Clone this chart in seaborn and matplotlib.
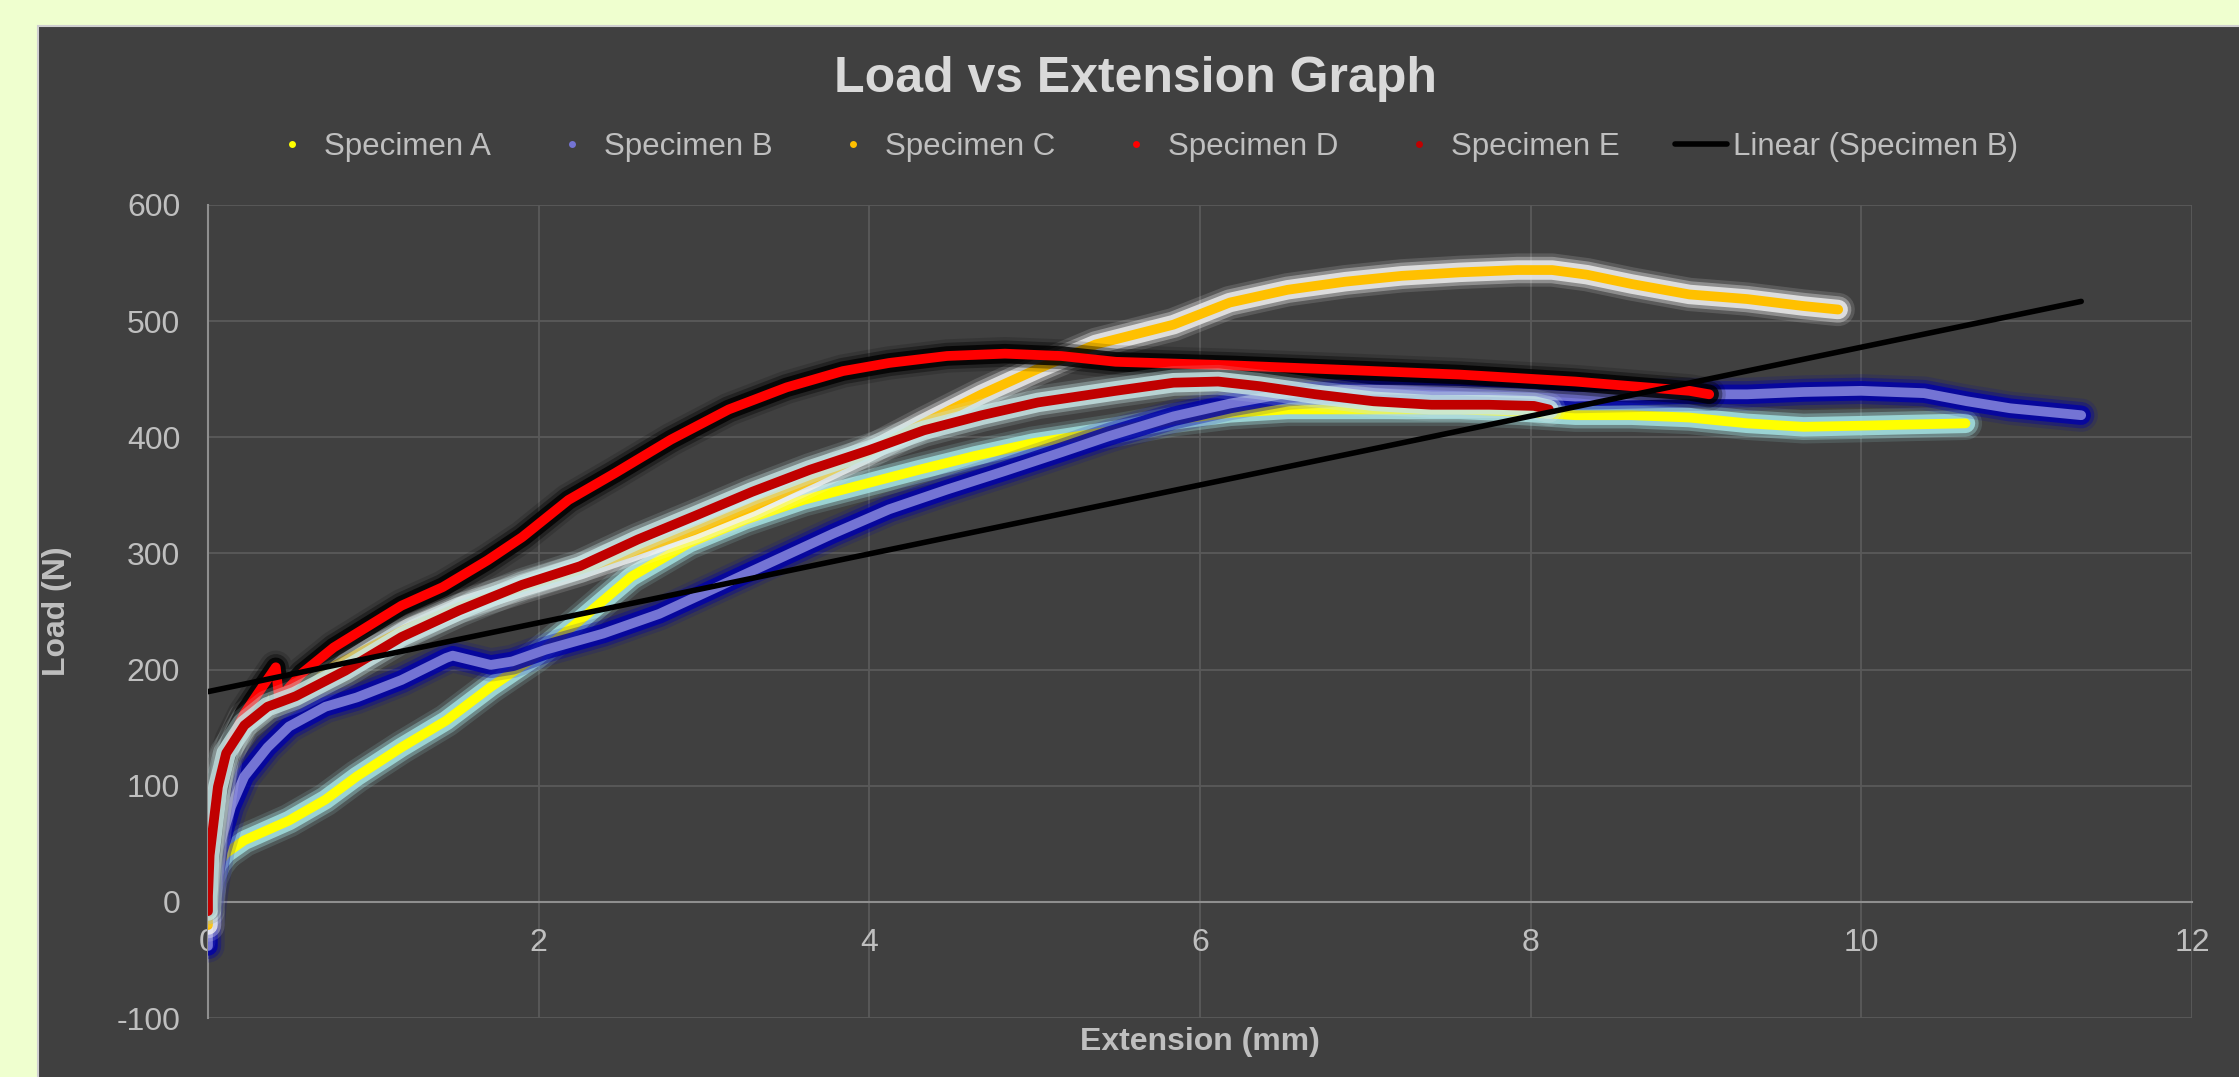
import matplotlib
matplotlib.use('Agg')
import matplotlib.pyplot as plt
import matplotlib.patheffects as pe
from matplotlib.patches import Rectangle
from matplotlib.lines import Line2D
import seaborn as sns
import pandas as pd

# values (extension mm, load N)
spec_a_x = [0.0, 0.02, 0.06, 0.11, 0.22, 0.49, 0.71, 0.90, 1.17, 1.44, 1.71, 1.98, 2.23, 2.56, 2.91, 3.25, 3.60, 3.95,
            4.30, 4.64, 4.99, 5.49, 5.84, 6.18, 6.53, 6.88, 7.22, 7.57, 7.92, 8.27, 8.61, 8.96, 9.31, 9.65, 10.0, 10.3, 10.63]
spec_a_y = [5, 20, 33, 42, 53, 70, 88, 108, 133, 156, 185, 211, 240, 280, 309, 329, 346, 359,
            372, 384, 395, 406, 415, 421, 424, 424, 424, 424, 422, 419, 419, 417, 412, 409, 410, 411, 412]

spec_b_x = [0.0, 0.0, 0.02, 0.06, 0.14, 0.22, 0.36, 0.49, 0.71, 0.90, 1.17, 1.44, 1.48, 1.71, 1.84, 2.04, 2.39, 2.73,
            3.08, 3.43, 3.78, 4.12, 4.47, 4.82, 5.16, 5.45, 5.84, 6.18, 6.53, 6.88, 7.22, 7.57, 7.92, 8.27, 8.61, 8.96,
            9.31, 9.65, 10.0, 10.38, 10.64, 10.9, 11.33]
spec_b_y = [-38, -20, 7, 44, 82, 108, 133, 151, 168, 176, 191, 210, 212, 204, 207, 217, 231, 248,
            271, 294, 317, 338, 355, 371, 387, 401, 418, 429, 438, 441, 441, 440, 438, 435, 436, 437,
            437, 439, 440, 438, 431, 425, 419]

spec_c_x = [0.0, 0.0, 0.01, 0.04, 0.11, 0.22, 0.39, 0.83, 1.17, 1.52, 1.90, 2.25, 2.60, 2.94, 3.29, 3.64, 3.98, 4.33,
            4.68, 5.02, 5.37, 5.84, 6.18, 6.53, 6.88, 7.22, 7.57, 7.92, 8.13, 8.34, 8.61, 8.96, 9.31, 9.65, 9.86]
spec_c_y = [-20, -5, 16, 60, 125, 158, 176, 208, 233, 254, 271, 286, 303, 320, 340, 363, 386, 412,
            437, 459, 480, 497, 516, 527, 534, 539, 542, 544, 544, 540, 532, 523, 519, 513, 510]

spec_d_x = [0.0, 0.0, 0.005, 0.05, 0.09, 0.14, 0.22, 0.30, 0.41, 0.43, 0.57, 0.76, 1.09, 1.17, 1.42, 1.69, 1.90, 2.18,
            2.46, 2.80, 3.15, 3.50, 3.84, 4.12, 4.47, 4.82, 5.16, 5.49, 6.18, 6.88, 7.57, 7.92, 8.27, 8.61, 8.96, 9.08]
spec_d_y = [-5, 10, 30, 88, 116, 139, 162, 179, 202, 175, 197, 219, 248, 255, 271, 294, 314, 346,
            369, 398, 424, 443, 457, 464, 470, 472, 470, 465, 462, 458, 454, 451, 448, 444, 440, 437]

spec_e_x = [0.0, 0.0, 0.01, 0.06, 0.11, 0.22, 0.36, 0.53, 0.83, 1.17, 1.52, 1.90, 2.25, 2.60, 2.94, 3.29, 3.64, 4.0,
            4.33, 4.68, 5.02, 5.49, 5.84, 6.11, 6.36, 6.70, 7.05, 7.40, 7.75, 8.02, 8.11]
spec_e_y = [-8, 5, 40, 99, 128, 152, 168, 177, 199, 228, 251, 273, 289, 312, 332, 353, 372, 389,
            406, 419, 430, 440, 447, 448, 444, 437, 431, 428, 428, 427, 424]

# linear trendline of specimen B, end points
trend_x = [0.0, 11.33]
trend_y = [181, 517]

names = ['Specimen A', 'Specimen B', 'Specimen C', 'Specimen D', 'Specimen E']
colors = ['#ffff00', '#7474d4', '#ffc000', '#ff0000', '#c00000']
glows = ['#a6e6e6', '#0000a8', '#f2f2f2', '#000000', '#c8e6e6']
all_x = [spec_a_x, spec_b_x, spec_c_x, spec_d_x, spec_e_x]
all_y = [spec_a_y, spec_b_y, spec_c_y, spec_d_y, spec_e_y]

sns.set_theme(style='dark')
plt.rcParams['font.family'] = ['Liberation Sans', 'DejaVu Sans']
plt.rcParams['axes.unicode_minus'] = False

txt = '#bfbfbf'
W, H = 2239, 1077

fig = plt.figure(figsize=(W / 100, H / 100), dpi=100, facecolor='#efffcf')
fig.patches.append(Rectangle((38 / W, -0.05), 1.1, (H - 26) / H + 0.05, transform=fig.transFigure,
                             facecolor='#404040', edgecolor='#cfcfcf', linewidth=1.5, zorder=-10))

ax = fig.add_axes([208 / W, 1 - 1018 / H, (2192 - 208) / W, (1018 - 205) / H])
ax.set_facecolor('#404040')
ax.set_zorder(2)


def glow(c):
    # soft halo like the excel glow effect
    return [pe.Stroke(linewidth=24, foreground=c, alpha=0.15, capstyle='round', joinstyle='round'),
            pe.Stroke(linewidth=19, foreground=c, alpha=0.35, capstyle='round', joinstyle='round'),
            pe.Stroke(linewidth=14, foreground=c, alpha=0.8, capstyle='round', joinstyle='round'),
            pe.Normal()]


for i in range(5):
    df = pd.DataFrame({'x': all_x[i], 'y': all_y[i]})
    sns.lineplot(data=df, x='x', y='y', sort=False, estimator=None, color=colors[i], linewidth=7,
                 solid_capstyle='round', solid_joinstyle='round', path_effects=glow(glows[i]),
                 ax=ax, zorder=3 + i)

trend = pd.DataFrame({'x': trend_x, 'y': trend_y})
sns.lineplot(data=trend, x='x', y='y', color='black', linewidth=4, ax=ax, zorder=10)

ax.set_xlim(0, 12)
ax.set_ylim(-100, 600)
ax.set_xticks(range(0, 13, 2))
ax.set_yticks(range(-100, 601, 100))
ax.grid(True, color='#5a5a5a', linewidth=1.3)
ax.set_axisbelow(True)
ax.spines['bottom'].set_position(('data', 0))
for s in ['top', 'right']:
    ax.spines[s].set_visible(False)
for s in ['left', 'bottom']:
    ax.spines[s].set_color('#8f8f8f')
    ax.spines[s].set_linewidth(1.5)
    ax.spines[s].set_zorder(1)
ax.tick_params(axis='x', length=0, pad=19, labelsize=23, labelcolor=txt)
ax.tick_params(axis='y', length=0, pad=20, labelsize=23, labelcolor=txt)

ax.set_xlabel('Extension (mm)', fontsize=23, fontweight='bold', color=txt)
ax.set_ylabel('Load (N)', fontsize=23, fontweight='bold', color=txt)
ax.xaxis.set_label_coords(0.5, (1018 - 1027) / (1018 - 205))
ax.yaxis.set_label_coords((72 - 208) / (2192 - 208), 0.5)

fig.text(1135 / W, 1 - 79 / H, 'Load vs Extension Graph', ha='center', va='center',
         fontsize=36, fontweight='bold', color='#d9d9d9')

handles = [Line2D([], [], linestyle='none', marker='o', markersize=5, color=c, markeredgewidth=0) for c in colors]
handles.append(Line2D([], [], color='black', linewidth=4))
leg = fig.legend(handles, names + ['Linear (Specimen B)'], loc='center', ncol=6,
                 bbox_to_anchor=(1142 / W, 1 - 147 / H), frameon=False, fontsize=22.5,
                 handlelength=1.65, handletextpad=0.2, columnspacing=1.76)
for t in leg.get_texts():
    t.set_color(txt)

fig.savefig('out.png', dpi=100, facecolor=fig.get_facecolor())
